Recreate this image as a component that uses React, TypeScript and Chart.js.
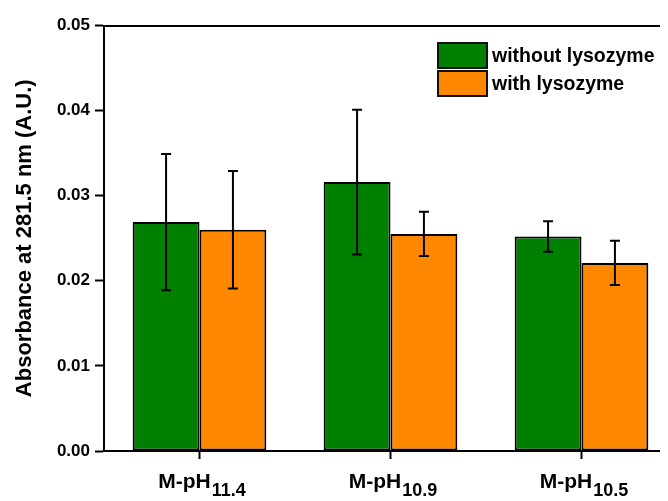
import React, { useEffect, useRef } from "react";
import { Chart, registerables } from "chart.js";

Chart.register(...registerables);

// ---- data ----
const categoryMain = ["M-pH", "M-pH", "M-pH"];
const categorySub = ["11.4", "10.9", "10.5"];
const seriesLabels = ["without lysozyme", "with lysozyme"];
const withoutLysozyme = [0.0269, 0.0316, 0.0252];
const withoutLysozymeErr = [0.008, 0.0085, 0.0018];
const withLysozyme = [0.026, 0.0255, 0.0221];
const withLysozymeErr = [0.0069, 0.0026, 0.0026];
const yMin = 0;
const yMax = 0.05;
const yStep = 0.01;
const yTitle = "Absorbance at 281.5 nm (A.U.)";

const FONT = "'Liberation Sans', Arial, sans-serif";
const GREEN = "#008000";
const ORANGE = "#FF8800";

const errorBarPlugin = {
  id: "errorBars",
  afterDatasetsDraw(chart: any) {
    const ctx = chart.ctx;
    const y = chart.scales.y;
    chart.data.datasets.forEach((ds: any, di: number) => {
      const meta = chart.getDatasetMeta(di);
      meta.data.forEach((bar: any, i: number) => {
        const v = ds.data[i];
        const e = ds.errors[i];
        const top = y.getPixelForValue(v + e);
        const bot = y.getPixelForValue(v - e);
        ctx.save();
        ctx.strokeStyle = "#000";
        ctx.lineWidth = 2;
        ctx.beginPath();
        ctx.moveTo(bar.x, top);
        ctx.lineTo(bar.x, bot);
        ctx.moveTo(bar.x - 5, top);
        ctx.lineTo(bar.x + 5, top);
        ctx.moveTo(bar.x - 5, bot);
        ctx.lineTo(bar.x + 5, bot);
        ctx.stroke();
        ctx.restore();
      });
    });
  },
};

const xLabelPlugin = {
  id: "xLabels",
  afterDraw(chart: any) {
    const ctx = chart.ctx;
    const xs = chart.scales.x;
    const base = chart.chartArea.bottom;
    ctx.save();
    ctx.fillStyle = "#000";
    ctx.textBaseline = "alphabetic";
    ctx.textAlign = "left";
    categoryMain.forEach((m, i) => {
      const x = xs.getPixelForTick(i);
      ctx.font = `bold 21px ${FONT}`;
      const wm = ctx.measureText(m).width;
      ctx.font = `bold 18px ${FONT}`;
      const ws = ctx.measureText(categorySub[i]).width;
      const start = x + 2 - (wm + ws) / 2;
      ctx.font = `bold 21px ${FONT}`;
      ctx.fillText(m, start, base + 37);
      ctx.font = `bold 18px ${FONT}`;
      ctx.fillText(categorySub[i], start + wm + 1, base + 45);
    });
    ctx.restore();
  },
};

const legendPlugin = {
  id: "boxLegend",
  afterDraw(chart: any) {
    const ctx = chart.ctx;
    const ca = chart.chartArea;
    const bx = ca.left + 334;
    const by = ca.top + 17.5;
    const bw = 49;
    const bh = 25;
    ctx.save();
    chart.data.datasets.forEach((ds: any, i: number) => {
      const y0 = by + i * (bh + 3);
      ctx.fillStyle = ds.backgroundColor;
      ctx.fillRect(bx, y0, bw, bh);
      ctx.strokeStyle = "#111";
      ctx.lineWidth = 2;
      ctx.strokeRect(bx, y0, bw, bh);
      ctx.fillStyle = "#000";
      ctx.font = `bold 19.5px ${FONT}`;
      ctx.textBaseline = "middle";
      ctx.textAlign = "left";
      ctx.fillText(ds.label, bx + bw + 5, y0 + bh / 2 + 1);
    });
    ctx.restore();
  },
};

export default function App() {
  const ref = useRef<HTMLCanvasElement | null>(null);
  useEffect(() => {
    document.documentElement.style.overflow = "hidden";
    document.body.style.overflow = "hidden";
    if (!ref.current) return;
    const chart = new Chart(ref.current, {
      type: "bar",
      data: {
        labels: categoryMain.map((m, i) => m + categorySub[i]),
        datasets: [
          {
            label: seriesLabels[0],
            data: withoutLysozyme,
            errors: withoutLysozymeErr,
            backgroundColor: GREEN,
            borderColor: "#000",
            borderWidth: 2,
            borderSkipped: false,
          } as any,
          {
            label: seriesLabels[1],
            data: withLysozyme,
            errors: withLysozymeErr,
            backgroundColor: ORANGE,
            borderColor: "#000",
            borderWidth: 2,
            borderSkipped: false,
          } as any,
        ],
      },
      options: {
        responsive: false,
        animation: false,
        layout: { padding: { top: 17.5, right: 21, bottom: 0, left: 0 } },
        datasets: { bar: { categoryPercentage: 0.7, barPercentage: 1.0 } },
        plugins: {
          legend: { display: false },
          tooltip: { enabled: false },
        },
        scales: {
          x: {
            type: "category",
            position: "bottom",
            grid: {
              display: true,
              drawOnChartArea: false,
              drawTicks: true,
              tickLength: 8,
              tickWidth: 2,
              tickColor: "#000",
              offset: false,
            },
            border: { display: true, color: "#000", width: 2 },
            ticks: { callback: () => "", font: { size: 1 } },
            afterFit: (s: any) => {
              s.height = 50;
            },
          },
          x2: {
            type: "category",
            position: "top",
            labels: categorySub,
            grid: { display: false, drawTicks: false },
            border: { display: true, color: "#000", width: 2 },
            ticks: { display: false },
            afterFit: (s: any) => {
              s.height = 0;
            },
          },
          y: {
            min: yMin,
            max: yMax,
            grid: {
              display: true,
              drawOnChartArea: false,
              drawTicks: true,
              tickLength: 9,
              tickWidth: 2,
              tickColor: "#000",
            },
            border: { display: true, color: "#000", width: 2 },
            ticks: {
              stepSize: yStep,
              padding: 5,
              color: "#000",
              font: { family: FONT, size: 17, weight: "bold" },
              callback: (v: any) => Number(v).toFixed(2),
            },
            title: {
              display: true,
              text: yTitle,
              color: "#000",
              font: { family: FONT, size: 22, weight: "bold" },
              padding: { top: 4, bottom: 0 },
            },
            afterFit: (s: any) => {
              s.width = 96;
            },
          },
        },
      } as any,
      plugins: [errorBarPlugin, xLabelPlugin, legendPlugin],
    });
    return () => chart.destroy();
  }, []);

  return (
    <div
      style={{
        width: 660,
        height: 493,
        overflow: "hidden",
        background: "#fff",
      }}
    >
      <canvas ref={ref} width={690} height={493} style={{ display: "block" }} />
    </div>
  );
}
